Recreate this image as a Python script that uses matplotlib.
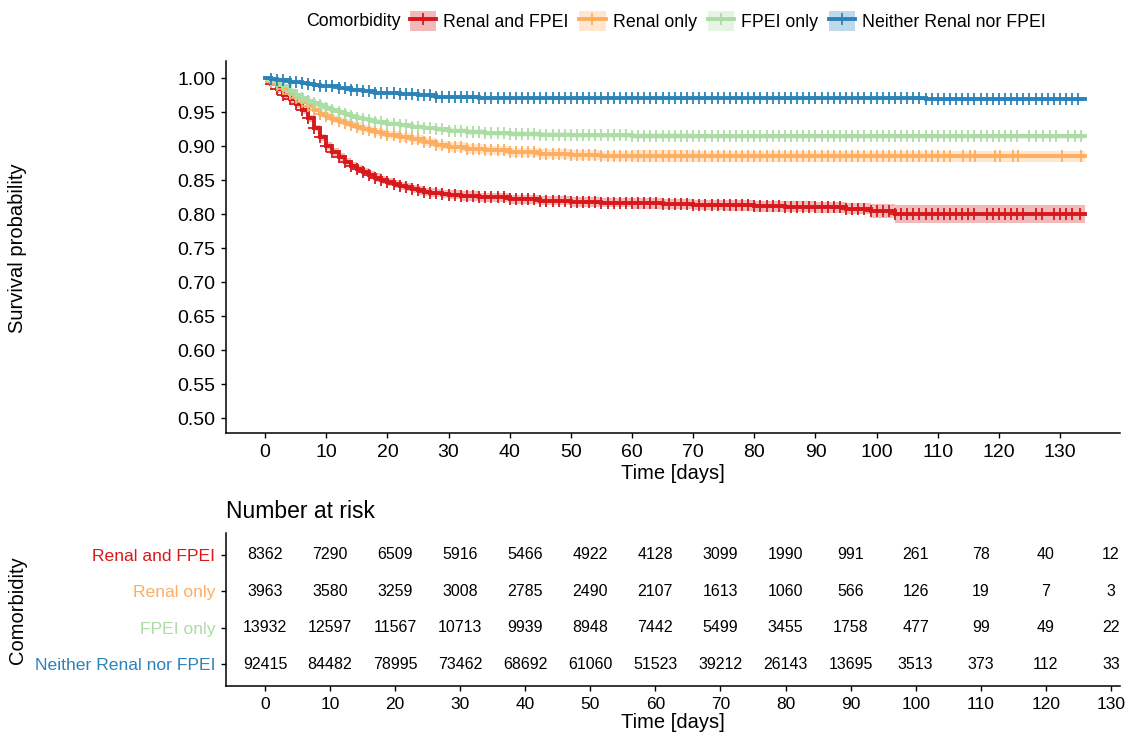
import numpy as np
import matplotlib
matplotlib.use("Agg")
import matplotlib.pyplot as plt
from matplotlib.patches import Patch
from matplotlib.lines import Line2D
from matplotlib.legend_handler import HandlerTuple

plt.rcParams['font.family'] = ['Liberation Sans', 'DejaVu Sans']

# ---------------- data ----------------
groups = ["Renal and FPEI", "Renal only", "FPEI only", "Neither Renal nor FPEI"]
colors = ["#d7191c", "#fdae61", "#abdda4", "#2b83ba"]

red_t = [0, 1, 2, 3, 4, 5, 6, 7, 8, 9, 10, 11, 12, 13, 14, 15, 16, 17, 18, 19, 20,
         21, 22, 23, 24, 25, 26, 27, 28, 29, 30, 32, 35, 40, 45, 50, 55, 60, 65, 70,
         75, 80, 85, 90, 95, 99, 103, 134]
red_s = [1.0, 0.992, 0.984, 0.976, 0.969, 0.962, 0.953, 0.941, 0.927, 0.913, 0.900,
         0.892, 0.884, 0.877, 0.871, 0.866, 0.862, 0.858, 0.854, 0.851, 0.848, 0.845,
         0.842, 0.840, 0.837, 0.835, 0.833, 0.832, 0.831, 0.830, 0.829, 0.827, 0.825,
         0.822, 0.820, 0.818, 0.817, 0.816, 0.815, 0.814, 0.813, 0.812, 0.811, 0.810,
         0.808, 0.8045, 0.8005, 0.8005]

orange_t = [0, 1, 2, 3, 4, 5, 6, 7, 8, 9, 10, 11, 12, 13, 14, 15, 16, 17, 18, 19, 20,
            22, 24, 26, 28, 30, 33, 36, 40, 45, 50, 55, 60, 70, 134]
orange_s = [1.0, 0.995, 0.990, 0.984, 0.977, 0.971, 0.965, 0.959, 0.954, 0.948, 0.944,
            0.940, 0.937, 0.934, 0.931, 0.929, 0.926, 0.924, 0.921, 0.919, 0.917, 0.913,
            0.910, 0.906, 0.902, 0.899, 0.896, 0.894, 0.891, 0.889, 0.887, 0.886, 0.8855,
            0.885, 0.885]

green_t = [0, 1, 2, 3, 4, 5, 6, 7, 8, 9, 10, 11, 12, 13, 14, 15, 16, 17, 18, 19, 20,
           22, 24, 26, 28, 30, 33, 36, 40, 45, 50, 60, 70, 134]
green_s = [1.0, 0.997, 0.993, 0.988, 0.982, 0.976, 0.971, 0.967, 0.963, 0.960, 0.957,
           0.953, 0.950, 0.947, 0.944, 0.942, 0.940, 0.938, 0.936, 0.935, 0.933, 0.931,
           0.929, 0.927, 0.925, 0.923, 0.921, 0.919, 0.918, 0.917, 0.916, 0.915, 0.9145,
           0.9145]

blue_t = [0, 1, 2, 3, 4, 5, 6, 7, 8, 9, 10, 12, 14, 16, 18, 20, 22, 25, 28, 30, 35,
          40, 60, 108, 134]
blue_s = [1.0, 0.999, 0.998, 0.997, 0.995, 0.994, 0.993, 0.991, 0.990, 0.989, 0.988,
          0.986, 0.983, 0.981, 0.979, 0.978, 0.977, 0.975, 0.973, 0.972, 0.971, 0.9706,
          0.9705, 0.9688, 0.9688]

# CI half-widths (step changes at given times)
red_ci_t = [0, 2, 10, 30, 60, 80, 99, 103]
red_ci_w = [0.002, 0.005, 0.006, 0.007, 0.0075, 0.008, 0.01, 0.0135]
orange_ci_t = [0, 2, 10, 30, 60, 80]
orange_ci_w = [0.002, 0.005, 0.006, 0.007, 0.0085, 0.0085]
green_ci_t = [0, 2, 10, 30, 60]
green_ci_w = [0.001, 0.003, 0.0035, 0.004, 0.004]
blue_ci_t = [0, 2, 10, 30]
blue_ci_w = [0.0005, 0.0012, 0.0015, 0.002]

# censoring times
red_cens = list(range(1, 117)) + [118, 119, 120, 121, 122, 123, 124, 126, 127, 129, 130, 131, 132, 133.2]
orange_cens = list(range(1, 113)) + [114.2, 115.3, 116.1, 119.4, 120.2, 122.3, 123.1, 130.3, 133.4]
green_cens = list(range(1, 124)) + [125, 126.1, 127.2, 128.3, 129.4, 131.3, 132.4, 133.4]
blue_cens = list(range(1, 134))

risk_times = [0, 10, 20, 30, 40, 50, 60, 70, 80, 90, 100, 110, 120, 130]
risk_red = [8362, 7290, 6509, 5916, 5466, 4922, 4128, 3099, 1990, 991, 261, 78, 40, 12]
risk_orange = [3963, 3580, 3259, 3008, 2785, 2490, 2107, 1613, 1060, 566, 126, 19, 7, 3]
risk_green = [13932, 12597, 11567, 10713, 9939, 8948, 7442, 5499, 3455, 1758, 477, 99, 49, 22]
risk_blue = [92415, 84482, 78995, 73462, 68692, 61060, 51523, 39212, 26143, 13695, 3513, 373, 112, 33]

y_ticks = [0.50, 0.55, 0.60, 0.65, 0.70, 0.75, 0.80, 0.85, 0.90, 0.95, 1.00]
x_ticks = [0, 10, 20, 30, 40, 50, 60, 70, 80, 90, 100, 110, 120, 130]

curves = [(red_t, red_s, red_ci_t, red_ci_w, red_cens),
          (orange_t, orange_s, orange_ci_t, orange_ci_w, orange_cens),
          (green_t, green_s, green_ci_t, green_ci_w, green_cens),
          (blue_t, blue_s, blue_ci_t, blue_ci_w, blue_cens)]
risks = [risk_red, risk_orange, risk_green, risk_blue]

# ---------------- figure ----------------
W, H = 1129, 734
fig = plt.figure(figsize=(W / 100, H / 100), dpi=100)

def fx(px):
    return px / W

def fy(py):
    return 1 - py / H

ax = fig.add_axes([fx(226), fy(433), fx(1120) - fx(226), fy(61) - fy(433)])
ax2 = fig.add_axes([fx(226), fy(686), fx(1120) - fx(226), fy(533) - fy(686)])

LW = 2.8
for (t, s, ct, cw, cens), col in zip(curves, colors):
    t = np.asarray(t, float)
    s = np.asarray(s, float)
    ct = np.asarray(ct, float)
    cw = np.asarray(cw, float)
    w = cw[np.searchsorted(ct, t, side='right') - 1]
    ax.fill_between(t, s - w, s + w, step='post', color=col, alpha=0.3, lw=0)
    ax.step(t, s, where='post', color=col, lw=LW, solid_joinstyle='miter')
    cens = np.asarray(cens, float)
    sc = s[np.searchsorted(t, cens, side='right') - 1]
    ax.plot(cens, sc, ls='none', marker='+', color=col, ms=8, mew=1.3)

ax.set_xlim(-6.4, 139.8)
ax.set_ylim(0.4784, 1.0254)
ax.set_xticks(x_ticks)
ax.set_yticks(y_ticks)
ax.set_yticklabels([f"{v:.2f}" for v in y_ticks])
for a in (ax, ax2):
    for sp in ("top", "right"):
        a.spines[sp].set_visible(False)
    for sp in ("left", "bottom"):
        a.spines[sp].set_linewidth(1.1)
    a.tick_params(axis='both', length=3.6, width=1.0, color='black',
                  labelcolor='black', pad=4)
ax.tick_params(axis='both', labelsize=14)
ax2.tick_params(axis='x', labelsize=12.5)

# risk table
nrow = len(groups)
for i, (vals, col) in enumerate(zip(risks, colors)):
    yrow = nrow - i
    for tt, n in zip(risk_times, vals):
        ax2.text(tt, yrow, str(n), ha='center', va='center', fontsize=11.5, color='black')
ax2.set_xlim(-6.0, 131.4)
ax2.set_ylim(0.4, nrow + 0.6)
ax2.set_xticks(x_ticks)
ax2.set_yticks([nrow - i for i in range(nrow)])
ax2.set_yticklabels(groups, fontsize=12.6)
for lab, col in zip(ax2.get_yticklabels(), colors):
    lab.set_color(col)

# titles / labels
fig.text(fx(18), fy(248), "Survival probability", rotation=90, ha='center', va='center', fontsize=14.5)
fig.text(fx(673), fy(479), "Time [days]", ha='center', va='baseline', fontsize=14.5)
fig.text(fx(226), fy(511), "Number at risk", ha='left', va='center', fontsize=16.5)
fig.text(fx(18), fy(610), "Comorbidity", rotation=90, ha='center', va='center', fontsize=14.5)
fig.text(fx(673), fy(728), "Time [days]", ha='center', va='baseline', fontsize=14.5)

# legend
handles = []
for col in colors:
    handles.append((Patch(facecolor=col, alpha=0.3, edgecolor='none'),
                    Line2D([], [], color=col, lw=LW, marker='+', ms=8, mew=1.3)))
leg = fig.legend(handles, groups, ncol=4, loc='center left',
                 bbox_to_anchor=(fx(410), fy(21)), frameon=False, fontsize=12.75,
                 handler_map={tuple: HandlerTuple(ndivide=1, pad=0)},
                 handlelength=1.47, handleheight=1.3, handletextpad=0.4,
                 columnspacing=0.62, borderpad=0, borderaxespad=0)
fig.text(fx(306), fy(21), "Comorbidity", ha='left', va='center', fontsize=12.75)

fig.savefig("out.png", dpi=100)
